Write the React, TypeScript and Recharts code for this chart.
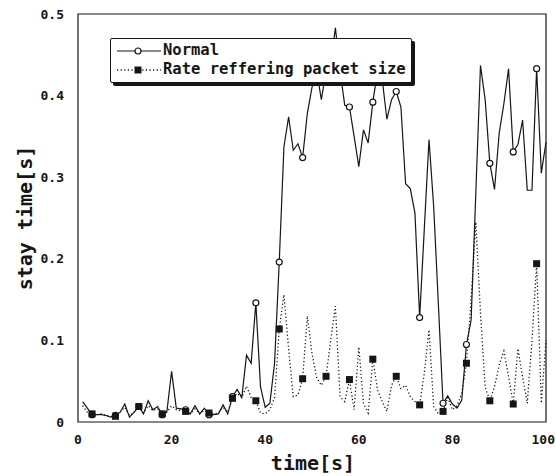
import { LineChart, Line, XAxis, YAxis, ReferenceArea } from "recharts";

const seconds = Array.from({ length: 100 }, (_, i) => i + 1);

const normal = [
  0.025, 0.017, 0.009, 0.009, 0.009, 0.008, 0.006, 0.008, 0.012, 0.022,
  0.006, 0.012, 0.019, 0.01, 0.026, 0.015, 0.019, 0.009, 0.013, 0.062,
  0.017, 0.016, 0.015, 0.01, 0.02, 0.01, 0.017, 0.009, 0.009, 0.01,
  0.021, 0.01, 0.031, 0.04, 0.03, 0.082, 0.072, 0.146, 0.043, 0.018,
  0.023, 0.072, 0.196, 0.337, 0.374, 0.333, 0.341, 0.324, 0.378, 0.41,
  0.43, 0.395, 0.43, 0.44, 0.483, 0.43, 0.388, 0.386, 0.35, 0.313,
  0.358, 0.342, 0.392, 0.43, 0.42, 0.371, 0.395, 0.405, 0.386, 0.292,
  0.286, 0.256, 0.128, 0.237, 0.346, 0.264, 0.145, 0.023, 0.032, 0.022,
  0.017, 0.027, 0.095, 0.125, 0.28, 0.437, 0.395, 0.317, 0.285, 0.354,
  0.39, 0.433, 0.331, 0.34, 0.37, 0.284, 0.284, 0.433, 0.305, 0.343,
];

const rateBySize = [
  0.02, 0.012, 0.01, 0.009, 0.01, 0.008, 0.007, 0.007, 0.012, 0.018,
  0.008, 0.012, 0.019, 0.011, 0.02, 0.014, 0.016, 0.01, 0.012, 0.02,
  0.015, 0.014, 0.013, 0.01, 0.016, 0.01, 0.014, 0.011, 0.01, 0.011,
  0.018, 0.012, 0.029, 0.035, 0.03, 0.044, 0.03, 0.026, 0.011, 0.01,
  0.015, 0.03, 0.114, 0.156, 0.09, 0.031, 0.033, 0.053, 0.13, 0.084,
  0.054, 0.045, 0.056, 0.1, 0.142, 0.031, 0.025, 0.052, 0.015, 0.092,
  0.023, 0.011, 0.077, 0.039, 0.025, 0.013, 0.045, 0.056, 0.041, 0.045,
  0.031, 0.025, 0.021, 0.06, 0.113, 0.019, 0.01, 0.013, 0.03, 0.015,
  0.02, 0.035, 0.072, 0.15, 0.245, 0.133, 0.043, 0.026, 0.043, 0.07,
  0.087, 0.056, 0.022, 0.09, 0.055, 0.023, 0.1, 0.194, 0.023, 0.1,
];

const xTicks = [0, 20, 40, 60, 80, 100];
const yTicks = [0, 0.1, 0.2, 0.3, 0.4, 0.5];

const data = seconds.map((t, i) => ({ t, normal: normal[i], rate: rateBySize[i] }));

const INK = "#161616";
const MONO = "'DejaVu Sans Mono', 'Liberation Mono', monospace";

// markers only on every 5th sample (t = 3, 8, 13, ...)
const CircleDot = (p: any) =>
  p.index % 5 === 2 ? (
    <circle key={`c${p.index}`} cx={p.cx} cy={p.cy} r={3} fill="#fff" stroke={INK} strokeWidth={1.2} />
  ) : (
    <g key={`c${p.index}`} />
  );

const SquareDot = (p: any) =>
  p.index % 5 === 2 ? (
    <rect key={`s${p.index}`} x={p.cx - 3.5} y={p.cy - 3.5} width={7} height={7} fill={INK} />
  ) : (
    <g key={`s${p.index}`} />
  );

// last label hugs the right edge like in the original
const XTick = ({ x, y, payload }: any) => {
  const last = payload.value === 100;
  return (
    <text
      x={last ? 555 : x}
      y={y}
      dy={9}
      textAnchor={last ? "end" : "middle"}
      fontFamily={MONO}
      fontWeight="bold"
      fontSize={13}
      fill={INK}
    >
      {payload.value}
    </text>
  );
};

function LegendBox() {
  return (
    <div
      style={{
        position: "absolute",
        left: 110,
        top: 38,
        width: 302,
        height: 45,
        border: `1.5px solid ${INK}`,
        boxShadow: `3px 3px 0 ${INK}`,
        borderRadius: 2,
        background: "#fff",
        fontFamily: MONO,
        fontWeight: "bold",
        fontSize: 15.5,
        lineHeight: "19px",
        color: INK,
        boxSizing: "border-box",
        paddingTop: 2,
      }}
    >
      <div style={{ display: "flex", alignItems: "center", height: 19 }}>
        <svg width={52} height={12}>
          <line x1={6} y1={6} x2={50} y2={6} stroke={INK} strokeWidth={1.2} />
          <circle cx={27} cy={6} r={3} fill="#fff" stroke={INK} strokeWidth={1.2} />
        </svg>
        <span>Normal</span>
      </div>
      <div style={{ display: "flex", alignItems: "center", height: 19 }}>
        <svg width={52} height={12}>
          <line x1={6} y1={6} x2={50} y2={6} stroke={INK} strokeWidth={1.3} strokeDasharray="1.2 2.4" />
          <rect x={23.5} y={2.5} width={7} height={7} fill={INK} />
        </svg>
        <span>Rate reffering packet size</span>
      </div>
    </div>
  );
}

export default function App() {
  return (
    <div style={{ position: "absolute", left: 0, top: 0, width: 556, height: 476, background: "#fff" }}>
      <LineChart width={556} height={476} data={data} margin={{ top: 14, right: 10, left: 0, bottom: 0 }}>
        <XAxis
          dataKey="t"
          type="number"
          domain={[0, 100]}
          ticks={xTicks}
          axisLine={false}
          tickLine={false}
          tickSize={0}
          tickMargin={13}
          height={54}
          tick={<XTick />}
          label={{
            content: () => (
              <text x={313} y={470} textAnchor="middle" fontFamily={MONO} fontWeight="bold" fontSize={20} fill={INK}>
                time[s]
              </text>
            ),
          }}
        />
        <YAxis
          type="number"
          domain={[0, 0.5]}
          ticks={yTicks}
          axisLine={false}
          tickLine={false}
          tickSize={0}
          tickMargin={14}
          width={78}
          tickFormatter={(v: number) => (v === 0 ? "0" : v.toFixed(1))}
          tick={{ fontFamily: MONO, fontWeight: "bold", fontSize: 13, fill: INK }}
          label={{
            content: () => (
              <text
                x={32}
                y={218}
                transform="rotate(-90 32 218)"
                textAnchor="middle"
                fontFamily={MONO}
                fontWeight="bold"
                fontSize={20}
                fill={INK}
              >
                stay time[s]
              </text>
            ),
          }}
        />
        <ReferenceArea x1={0} x2={100} y1={0} y2={0.5} fill="none" stroke={INK} strokeWidth={1.2} />
        <Line
          type="linear"
          dataKey="normal"
          name="Normal"
          stroke={INK}
          strokeWidth={1.2}
          dot={CircleDot}
          activeDot={false}
          isAnimationActive={false}
        />
        <Line
          type="linear"
          dataKey="rate"
          name="Rate reffering packet size"
          stroke={INK}
          strokeWidth={1.3}
          strokeDasharray="1.2 2.4"
          dot={SquareDot}
          activeDot={false}
          isAnimationActive={false}
        />
      </LineChart>
      <LegendBox />
    </div>
  );
}
